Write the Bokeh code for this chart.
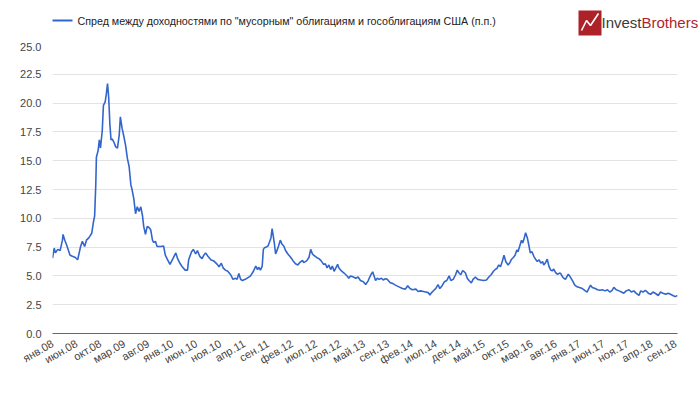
import math
from datetime import datetime
from bokeh.plotting import figure
from bokeh.layouts import column
from bokeh.models import (Range1d, FixedTicker, Label, NumeralTickFormatter)
from bokeh.embed import file_html
from bokeh.resources import INLINE

# ---- data (decimal years, spread in p.p.) ----
years = [
    2008.00, 2008.03, 2008.05, 2008.09, 2008.13, 2008.17, 2008.18, 2008.21, 2008.24, 2008.26,
    2008.30, 2008.34, 2008.39, 2008.43, 2008.48, 2008.51, 2008.55, 2008.58, 2008.62, 2008.67,
    2008.70, 2008.72, 2008.74, 2008.75, 2008.78, 2008.80, 2008.82, 2008.85, 2008.87, 2008.90,
    2008.92, 2008.94, 2008.96, 2008.98,
    2009.00, 2009.02, 2009.05, 2009.08, 2009.11, 2009.14, 2009.16, 2009.19, 2009.22, 2009.25,
    2009.28, 2009.31, 2009.34, 2009.36, 2009.39, 2009.42, 2009.45, 2009.48, 2009.51, 2009.54,
    2009.56, 2009.59, 2009.62, 2009.65, 2009.68, 2009.71, 2009.73, 2009.76, 2009.79, 2009.85,
    2009.90, 2009.93, 2009.97,
    2010.01, 2010.05, 2010.11, 2010.14, 2010.18, 2010.22, 2010.27, 2010.31, 2010.33, 2010.38,
    2010.41, 2010.45, 2010.48, 2010.52, 2010.56, 2010.59, 2010.62, 2010.66, 2010.71, 2010.76,
    2010.82, 2010.85, 2010.89, 2010.92, 2010.96,
    2011.00, 2011.05, 2011.09, 2011.13, 2011.16, 2011.19, 2011.22, 2011.25, 2011.30, 2011.36,
    2011.39, 2011.44, 2011.48, 2011.51, 2011.53, 2011.56, 2011.59, 2011.61, 2011.63, 2011.66,
    2011.69, 2011.72, 2011.74, 2011.76, 2011.78, 2011.80, 2011.82, 2011.85, 2011.87, 2011.90,
    2011.93, 2011.96, 2011.99,
    2012.03, 2012.08, 2012.12, 2012.16, 2012.20, 2012.23, 2012.28, 2012.30, 2012.35, 2012.39,
    2012.42, 2012.45, 2012.47, 2012.52, 2012.56, 2012.60, 2012.64, 2012.67, 2012.70, 2012.73,
    2012.76, 2012.79, 2012.82, 2012.85, 2012.88, 2012.90, 2012.94, 2012.99,
    2013.05, 2013.07, 2013.10, 2013.15, 2013.19, 2013.23, 2013.27, 2013.32, 2013.36, 2013.40,
    2013.43, 2013.46, 2013.48, 2013.50, 2013.53, 2013.56, 2013.59, 2013.63, 2013.66, 2013.70,
    2013.73, 2013.78, 2013.82, 2013.87, 2013.93, 2013.99,
    2014.04, 2014.08, 2014.12, 2014.16, 2014.22, 2014.26, 2014.30, 2014.35, 2014.39, 2014.43,
    2014.46, 2014.49, 2014.53, 2014.56, 2014.60, 2014.63, 2014.67, 2014.71, 2014.75, 2014.79,
    2014.82, 2014.86, 2014.90, 2014.93, 2014.96, 2014.99,
    2015.02, 2015.04, 2015.07, 2015.10, 2015.13, 2015.17, 2015.20, 2015.24, 2015.28, 2015.33,
    2015.38, 2015.43, 2015.47, 2015.51, 2015.55, 2015.59, 2015.61, 2015.64, 2015.67, 2015.70,
    2015.73, 2015.76, 2015.80, 2015.83, 2015.86, 2015.89, 2015.92, 2015.95, 2015.97,
    2016.00, 2016.03, 2016.05, 2016.07, 2016.10, 2016.13, 2016.16, 2016.18, 2016.21, 2016.24,
    2016.27, 2016.30, 2016.33, 2016.36, 2016.39, 2016.41, 2016.44, 2016.47, 2016.50, 2016.53,
    2016.56, 2016.58, 2016.61, 2016.64, 2016.69, 2016.70, 2016.74, 2016.78, 2016.83, 2016.87,
    2016.91, 2016.94, 2016.98,
    2017.02, 2017.07, 2017.11, 2017.15, 2017.18, 2017.21, 2017.24, 2017.29, 2017.33, 2017.37,
    2017.41, 2017.46, 2017.50, 2017.54, 2017.58, 2017.61, 2017.65, 2017.70, 2017.74, 2017.78,
    2017.82, 2017.87, 2017.91, 2017.95, 2017.99,
    2018.04, 2018.07, 2018.11, 2018.15, 2018.20, 2018.24, 2018.28, 2018.33, 2018.37, 2018.41,
    2018.45, 2018.50, 2018.54, 2018.58, 2018.62, 2018.66, 2018.70,
]

spread = [
    6.55, 7.4, 7.0, 7.3, 7.2, 8.1, 8.6, 8.1, 7.7, 7.4,
    6.8, 6.7, 6.6, 6.4, 7.55, 8.0, 7.55, 8.1, 8.3, 8.7,
    9.7, 10.2, 13.0, 15.3, 15.9, 16.8, 16.1, 17.6, 19.8, 20.1,
    20.8, 21.7, 20.5, 18.2,
    16.8, 16.9, 16.6, 16.2, 16.1, 17.2, 18.8, 17.8, 17.1, 16.3,
    15.2, 14.5, 12.9, 12.5, 11.7, 10.4, 11.0, 10.6, 11.0, 10.2,
    9.3, 8.6, 9.3, 9.2, 9.0, 8.1, 7.9, 8.0, 7.55, 7.55,
    7.6, 6.8, 6.4,
    6.0, 6.4, 7.0, 6.5, 6.1, 5.8, 5.5, 5.5, 6.4, 7.1,
    7.3, 6.9, 7.2, 6.7, 6.5, 6.8, 7.0, 6.7, 6.4, 6.3,
    6.0, 5.8, 6.1, 5.7, 5.5,
    5.4, 5.1, 4.7, 4.8, 4.7, 5.2, 4.7, 4.6, 4.7, 4.9,
    5.0, 5.4, 5.85, 5.55, 5.75, 5.5, 5.85, 7.3, 7.45, 7.5,
    7.6, 8.0, 8.3, 9.1, 8.45, 7.75, 6.9, 7.3, 7.6, 8.1,
    7.75, 7.6, 7.2,
    6.9, 6.6, 6.3, 6.05, 5.95, 6.15, 6.35, 6.15, 6.3, 6.6,
    7.3, 6.9, 6.8, 6.6, 6.5, 6.3, 6.0, 6.05, 5.7, 5.95,
    5.55, 5.85, 5.4, 5.7, 6.0, 5.7, 5.45, 5.25,
    4.95, 4.8, 5.0, 4.9, 4.8, 4.9, 4.6, 4.5, 4.25, 4.55,
    4.9, 5.2, 5.35, 5.05, 4.6, 4.8, 4.7, 4.8, 4.65, 4.75,
    4.7, 4.4, 4.35, 4.2, 4.05, 3.9,
    3.85, 4.15, 3.9, 3.8, 3.85, 3.65, 3.7, 3.65, 3.6, 3.55,
    3.35, 3.55, 3.75, 3.9, 4.25, 3.9, 4.15, 4.5, 4.6, 5.0,
    4.6, 4.7, 5.1, 5.5, 5.25, 5.1,
    5.45, 5.4, 5.25, 4.8, 4.6, 4.4, 4.7, 4.9, 4.7, 4.65,
    4.6, 4.65, 4.9, 5.1, 5.4, 5.6, 5.65, 5.95, 5.8, 6.25,
    6.8, 6.25, 5.95, 6.15, 6.45, 6.6, 6.8, 7.25, 7.1,
    7.6, 8.1, 7.85, 8.15, 8.75, 8.3, 7.55, 7.0, 7.1, 6.7,
    6.45, 6.25, 6.4, 6.1, 6.25, 5.95, 6.15, 6.45, 5.8, 5.5,
    5.45, 5.6, 5.3, 5.15, 5.25, 5.2, 4.85, 4.7, 5.15, 4.85,
    4.5, 4.2, 4.05,
    4.0, 3.9, 3.75, 3.6, 3.9, 4.2, 4.0, 3.9, 3.8, 3.75,
    3.8, 3.7, 3.8, 3.6, 3.75, 4.0, 3.8, 3.7, 3.6, 3.5,
    3.7, 3.8, 3.6, 3.7, 3.5,
    3.3, 3.7, 3.6, 3.75, 3.5, 3.4, 3.6, 3.45, 3.3, 3.6,
    3.5, 3.4, 3.5, 3.4, 3.3, 3.2, 3.3,
]

tick_labels = [
    "янв.08", "июн.08", "окт.08", "мар.09", "авг.09", "янв.10", "июн.10", "ноя.10",
    "апр.11", "сен.11", "фев.12", "июл.12", "ноя.12", "май.13", "сен.13", "фев.14",
    "июл.14", "дек.14", "май.15", "окт.15", "мар.16", "авг.16", "янв.17", "июн.17",
    "ноя.17", "апр.18", "сен.18",
]
y_ticks = [0.0, 2.5, 5.0, 7.5, 10.0, 12.5, 15.0, 17.5, 20.0, 22.5, 25.0]

series_name = 'Спред между доходностями по "мусорным" облигациям и гособлигациям США (п.п.)'

month_idx = {"янв": 1, "фев": 2, "мар": 3, "апр": 4, "май": 5, "июн": 6,
             "июл": 7, "авг": 8, "сен": 9, "окт": 10, "ноя": 11, "дек": 12}

EPOCH = datetime(1970, 1, 1)


def yr_to_ms(y):
    yi = int(math.floor(y))
    a, b = datetime(yi, 1, 1), datetime(yi + 1, 1, 1)
    return ((a + (b - a) * (y - yi)) - EPOCH).total_seconds() * 1000.0


def label_to_ms(lbl):
    m, yy = lbl.split(".")
    return (datetime(2000 + int(yy), month_idx[m], 1) - EPOCH).total_seconds() * 1000.0


xs = [yr_to_ms(v) for v in years]

first_t = label_to_ms(tick_labels[0])
last_t = label_to_ms(tick_labels[-1])
n = len(tick_labels) - 1
x_ticks = [int(round(first_t + k * (last_t - first_t) / n)) for k in range(n + 1)]

FONT = "Liberation Sans"
LINE_COLOR = "#3366cc"
W = 700
HEAD_H = 42
MAIN_H = 353

# ---------- header: legend + logo (pixel-like coordinates) ----------
head = figure(width=W, height=HEAD_H, output_backend="svg", toolbar_location=None,
              x_range=Range1d(0, W), y_range=Range1d(0, HEAD_H),
              x_axis_location=None, y_axis_location=None,
              min_border_left=0, min_border_right=0, min_border_top=0, min_border_bottom=0)
head.outline_line_color = None
head.grid.visible = False
head.background_fill_color = "white"
head.border_fill_color = "white"
try:
    head.frame_align = False
except Exception:
    pass

# legend key + label
head.line([52, 72], [22, 22], line_color=LINE_COLOR, line_width=2)
head.add_layout(Label(x=77, y=22, text=series_name, text_font=FONT,
                      text_font_size="10.7px", text_color="#222222",
                      text_baseline="middle"))

# logo
head.quad(left=[578], right=[601], bottom=[7], top=[32],
          fill_color="#ad2229", line_color=None)
head.line([581, 586, 590, 598], [12, 22, 17, 29], line_color="white", line_width=1.6)
head.add_layout(Label(x=641, y=20, text="Invest", text_color="#3a3a3a", text_font=FONT,
                      text_font_size="15px", text_align="right", text_baseline="middle"))
head.add_layout(Label(x=641, y=20, text="Brothers", text_color="#b0262c", text_font=FONT,
                      text_font_size="15px", text_align="left", text_baseline="middle"))

# ---------- main chart ----------
p = figure(width=W, height=MAIN_H, x_axis_type="datetime", output_backend="svg",
           toolbar_location=None, x_range=Range1d(xs[0], xs[-1]),
           y_range=Range1d(0, 25),
           min_border_left=52, min_border_right=23, min_border_top=3,
           min_border_bottom=62)
p.outline_line_color = None
p.background_fill_color = "white"
p.border_fill_color = "white"
try:
    p.frame_align = False
except Exception:
    pass

r = p.line(xs, spread, line_color=LINE_COLOR, line_width=1.6)

p.yaxis.ticker = FixedTicker(ticks=y_ticks)
p.yaxis.formatter = NumeralTickFormatter(format="0.0")
p.yaxis.axis_line_color = None
p.yaxis.major_tick_line_color = None
p.yaxis.minor_tick_line_color = None
p.yaxis.major_tick_in = 0
p.yaxis.major_tick_out = 0
p.yaxis.minor_tick_in = 0
p.yaxis.minor_tick_out = 0
p.yaxis.major_label_standoff = 11
p.yaxis.major_label_text_font = FONT
p.yaxis.major_label_text_font_size = "11px"
p.yaxis.major_label_text_color = "#444444"

p.ygrid.ticker = FixedTicker(ticks=y_ticks)
p.ygrid.grid_line_color = "#e3e3e3"
p.xgrid.grid_line_color = None

p.xaxis.ticker = FixedTicker(ticks=x_ticks)
p.xaxis.major_label_overrides = dict(zip(x_ticks, tick_labels))
p.xaxis.major_label_orientation = math.pi / 6
p.xaxis.axis_line_color = "#666666"
p.xaxis.axis_line_width = 1
p.xaxis.major_tick_line_color = None
p.xaxis.minor_tick_line_color = None
p.xaxis.major_tick_in = 0
p.xaxis.major_tick_out = 0
p.xaxis.minor_tick_in = 0
p.xaxis.minor_tick_out = 0
p.xaxis.major_label_standoff = 9
p.xaxis.major_label_text_font = FONT
p.xaxis.major_label_text_font_size = "11px"
p.xaxis.major_label_text_color = "#444444"

layout = column(head, p, spacing=0)
open("out.html", "w").write(file_html(layout, INLINE))
